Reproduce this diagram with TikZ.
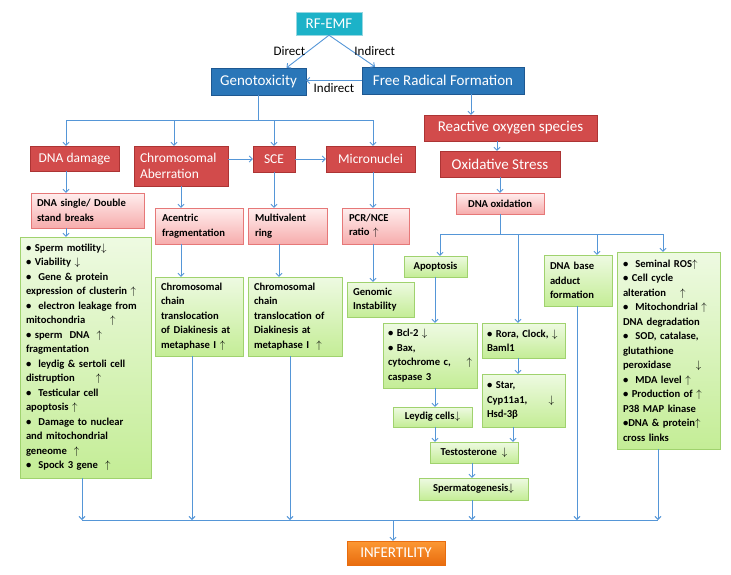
\documentclass[tikz,border=0pt]{standalone}
\usepackage{fontspec}
\setmainfont{Carlito}
\usetikzlibrary{arrows.meta,shadows}

\definecolor{linkblue}{RGB}{85,150,215}
\definecolor{emfcyan}{RGB}{28,178,200}
\definecolor{emfline}{RGB}{150,215,225}
\definecolor{genoblue}{RGB}{42,118,184}
\definecolor{genodark}{RGB}{30,88,145}
\definecolor{headred}{RGB}{210,75,75}
\definecolor{headdark}{RGB}{172,52,52}
\definecolor{pinktop}{RGB}{255,238,238}
\definecolor{pinkbot}{RGB}{246,172,172}
\definecolor{pinkline}{RGB}{230,120,120}
\definecolor{greentop}{RGB}{238,250,226}
\definecolor{greenbot}{RGB}{196,237,150}
\definecolor{greenline}{RGB}{160,210,110}
\definecolor{orangetop}{RGB}{252,152,52}
\definecolor{orangebot}{RGB}{232,108,14}

\newcommand\hdfont{\fontsize{15}{18}\selectfont}
\newcommand\rowfont{\fontsize{13.5}{16}\selectfont}
\newcommand\smfont{\bfseries\fontsize{10.6}{14.5}\selectfont}

\begin{document}
\begin{tikzpicture}
          [x=1pt,y=-1pt,
           shd/.style={drop shadow={shadow xshift=1pt,shadow yshift=-1.2pt,opacity=0.25}},
           cyanbox/.style={draw=emfline, fill=emfcyan, text=white, font=\hdfont, inner sep=0pt, shd},
           bluebox/.style={draw=genodark, fill=genoblue, text=white, font=\hdfont, inner sep=0pt, shd},
           redbox/.style={draw=headdark, fill=headred, text=white, font=\hdfont, inner sep=0pt, shd},
           pinkbox/.style={draw=pinkline, top color=pinktop, bottom color=pinkbot, font=\smfont, inner sep=0pt, align=left, shd},
           greenbox/.style={draw=greenline, top color=greentop, bottom color=greenbot, font=\smfont, inner sep=0pt, align=left, shd},
           orangebox/.style={draw=orangebot, top color=orangetop, bottom color=orangebot, text=white, font=\hdfont, inner sep=0pt, shd},
           lbl/.style={font=\fontsize{13}{15}\selectfont, inner sep=2pt},
           line/.style={draw=linkblue, line width=0.9pt},
           arr/.style={line, -{Straight Barb[length=3pt,width=6pt]}}]
        \useasboundingbox (0,0) rectangle (731,574);

        % top of the chart
        \node[cyanbox, minimum width=66pt, minimum height=23pt] (emf) at (329,23.5) {RF-EMF};
        \node[bluebox, minimum width=95pt, minimum height=27pt] (geno) at (258.5,81.5) {Genotoxicity};
        \node[bluebox, minimum width=162pt, minimum height=27pt] (frf) at (443,80.5) {Free Radical Formation};

        \draw[arr] (emf.south) -- node[lbl, left] {Direct} ([xshift=28pt]geno.north);
        \draw[arr] (emf.south) -- node[lbl, right] {Indirect} ([xshift=-68pt]frf.north);
        \draw[arr] (frf.west) -- node[lbl, below=1pt] {Indirect} (frf.west -| geno.east);

        % genotoxic branch
        \node[redbox, font=\rowfont, minimum width=89pt, minimum height=25pt] (dnad) at (74.5,158.5) {DNA damage};
        \node[redbox, font=\rowfont, text width=82pt, inner xsep=6pt, minimum height=40pt, align=left] (crom) at (181,166) {Chromosomal\\Aberration};
        \node[redbox, font=\rowfont, minimum width=42pt, minimum height=26pt] (sce) at (274,159) {SCE};
        \node[redbox, font=\rowfont, minimum width=89pt, minimum height=26pt] (micro) at (370.5,159) {Micronuclei};

        \node[pinkbox, text width=101pt, inner xsep=6pt, minimum height=35pt] (dsb) at (87.5,210.5) {DNA single/ Double\\stand breaks};
        \node[pinkbox, text width=74pt, inner xsep=7pt, minimum height=36pt] (acen) at (199,226) {Acentric\\fragmentation};
        \node[pinkbox, text width=65pt, inner xsep=7pt, minimum height=36pt] (mval) at (287.5,226) {Multivalent\\ring};
        \node[pinkbox, text width=53pt, inner xsep=7pt, minimum height=36pt] (pcr) at (375.5,226) {PCR/NCE\\ratio $\uparrow$};

        \node[greenbox, text width=119pt, inner xsep=6pt, minimum height=241pt] (spm) at (85.5,357.5)
          {\textbullet\ Sperm motility$\downarrow$\\
           \textbullet\ Viability $\downarrow$\\
           \textbullet\ \ Gene \& protein\\
           expression of clusterin $\uparrow$\\
           \textbullet\ \ electron leakage from\\
           mitochondria \qquad$\uparrow$\\
           \textbullet\ sperm\ \ DNA \ $\uparrow$\\
           fragmentation\\
           \textbullet\ \ leydig \& sertoli cell\\
           distruption \quad\ \ $\uparrow$\\
           \textbullet\ \ Testicular cell\\
           apoptosis $\uparrow$\\
           \textbullet\ \ Damage to nuclear\\
           and mitochondrial\\
           geneome \ $\uparrow$\\
           \textbullet\ \ Spock 3 gene \ $\uparrow$};
        \node[greenbox, text width=76pt, inner xsep=6pt, minimum height=79pt] (chainA) at (199,316.5)
          {Chromosomal\\chain\\translocation\\of Diakinesis at\\metaphase I $\uparrow$};
        \node[greenbox, text width=82pt, inner xsep=6pt, minimum height=79pt] (chainB) at (295,316.5)
          {Chromosomal\\chain\\translocation of\\Diakinesis at\\metaphase I \ $\uparrow$};
        \node[greenbox, text width=55pt, inner xsep=6pt, minimum height=35pt] (gins) at (380.5,299.5) {Genomic\\Instability};

        % oxidative branch
        \node[redbox, minimum width=173pt, minimum height=26pt] (ros) at (510.5,128) {Reactive oxygen species};
        \node[redbox, minimum width=120pt, minimum height=26pt] (oxs) at (500,164) {Oxidative Stress};
        \node[pinkbox, minimum width=88pt, minimum height=21pt] (dnaox) at (500,203.5) {DNA oxidation};

        \node[greenbox, minimum width=63pt, minimum height=21pt] (apop) at (435.5,266.5) {Apoptosis};
        \node[greenbox, text width=84pt, inner xsep=5pt, minimum height=65pt] (bcl) at (430,355.5)
          {\textbullet\ Bcl-2 $\downarrow$\\
           \textbullet\ Bax,\\
           cytochrome c,\hfill$\uparrow$\\
           caspase 3};
        \node[greenbox, minimum width=79pt, minimum height=20pt] (leyd) at (432.5,417) {Leydig cells$\downarrow$};
        \node[greenbox, text width=73pt, inner xsep=5pt, minimum height=35pt] (rora) at (523.5,340.5)
          {\textbullet\ Rora, Clock, $\downarrow$\\Baml1};
        \node[greenbox, text width=73pt, inner xsep=5pt, minimum height=53pt] (star) at (523.5,400.5)
          {\textbullet\ Star,\\Cyp11a1,\qquad$\downarrow$\\Hsd-3β};
        \node[greenbox, minimum width=88pt, minimum height=21pt] (testo) at (474,452.5) {Testosterone \ $\downarrow$};
        \node[greenbox, minimum width=109pt, minimum height=22pt] (sgen) at (473.5,489) {Spermatogenesis$\downarrow$};
        \node[greenbox, text width=56pt, inner xsep=6pt, minimum height=51pt] (dbaf) at (578,280.5) {DNA base\\adduct\\formation};
        \node[greenbox, text width=91pt, inner xsep=6pt, minimum height=197pt] (sros) at (668.5,350.5)
          {\textbullet\ \ Seminal ROS$\uparrow$\\
           \textbullet\ Cell cycle\\
           alteration \quad$\uparrow$\\
           \textbullet\ \ Mitochondrial $\uparrow$\\
           DNA degradation\\
           \textbullet\ \ SOD, catalase,\\
           glutathione\\
           peroxidase \qquad$\downarrow$\\
           \textbullet\ \ MDA level $\uparrow$\\
           \textbullet\ Production of $\uparrow$\\
           P38 MAP kinase\\
           \textbullet DNA \& protein$\uparrow$\\
           cross links};

        \node[orangebox, minimum width=98pt, minimum height=24pt] (inf) at (396,553) {INFERTILITY};

        % buses
        \coordinate (gbusL) at (66,120);
        \coordinate (gbusR) at (373,120);
        \coordinate (obusL) at (440,234);
        \coordinate (obusR) at (663,234);
        \coordinate (fbusL) at (82,520);
        \coordinate (fbusR) at (658,520);

        \draw[line] (gbusL) -- (gbusR);
        \draw[line] (geno.south) -- (geno.south |- gbusL);
        \foreach \x/\to in {66/dnad, 174/crom, 274/sce, 373/micro}
          \draw (\x,0 |- gbusL) edge[arr] (\x,0 |- \to.north);

        \draw[arr] (crom.east |- sce.west) -- (sce.west);
        \draw[arr] (sce.east) -- (micro.west);

        \foreach \x/\from/\to in {66/dnad/dsb, 66/dsb/spm, 181/crom/acen, 181/acen/chainA,
                                  274/sce/mval, 279/mval/chainB, 373/micro/pcr, 373/pcr/gins,
                                  471/frf/ros, 497/ros/oxs, 500/oxs/dnaox,
                                  435/apop/bcl, 435/bcl/leyd, 435/leyd/testo,
                                  518/rora/star, 513/star/testo, 472/testo/sgen}
          \draw (\x,0 |- \from.south) edge[arr] (\x,0 |- \to.north);

        \draw[line] (obusL) -- (obusR);
        \draw[line] (dnaox.south) -- (dnaox.south |- obusL);
        \foreach \x/\to in {440/apop, 518/rora, 597/dbaf, 663/sros}
          \draw (\x,0 |- obusL) edge[arr] (\x,0 |- \to.north);

        \draw[line] (fbusL) -- (fbusR);
        \foreach \x/\from in {82/spm, 192/chainA, 290/chainB, 472/sgen, 577/dbaf, 658/sros}
          \draw (\x,0 |- \from.south) edge[arr] (\x,0 |- fbusL);
        \draw[arr] (393,0 |- fbusL) -- (393,0 |- inf.north);
      \end{tikzpicture}
\end{document}
